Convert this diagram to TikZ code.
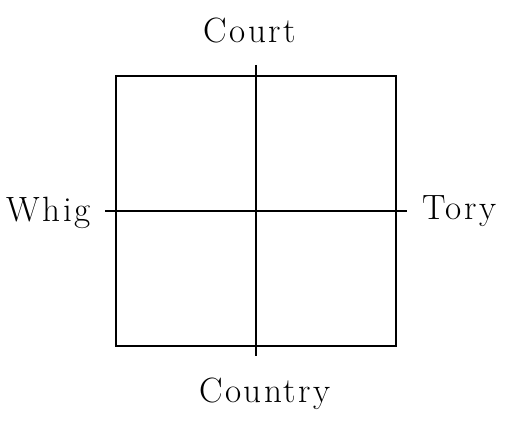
\documentclass[tikz,border=0pt]{standalone}
\usepackage{fontspec}
\setmainfont{Latin Modern Roman}[LetterSpace=7]
\usepackage{tikz}
\usetikzlibrary{positioning}
\tikzset{
    pole/.style={
        font=\fontsize{20}{24}\selectfont,
        anchor=base,
        inner sep=0pt
    },
    frame/.style={
        rectangle,
        draw,
        line width=1pt,
        minimum width=5.6cm,
        minimum height=5.4cm,
        inner sep=0pt
    },
    axisline/.style={line width=1pt}
}
\begin{document}
\begin{tikzpicture}[x=0.02cm, y=-0.02cm]
    \useasboundingbox (0,0) rectangle (509,428);
    % Square
    \node[frame] (quad) at (256,211) {};

    % Poles
    \node[pole] (court) at (250,43) {Court};
    \node[pole] (country) at (265,402) {Country};
    \node[pole, anchor=base east] (whig) at (91,222) {Whig};
    \node[pole, anchor=base west] (tory) at (422,220) {Tory};

    % Axes
    \coordinate (top) at (256,65);
    \coordinate (bottom) at (256,356);
    \coordinate (left) at (105,211);
    \coordinate (right) at (407,211);
    \draw[axisline] (top) -- (bottom);
    \draw[axisline] (left) -- (right);
\end{tikzpicture}
\end{document}
